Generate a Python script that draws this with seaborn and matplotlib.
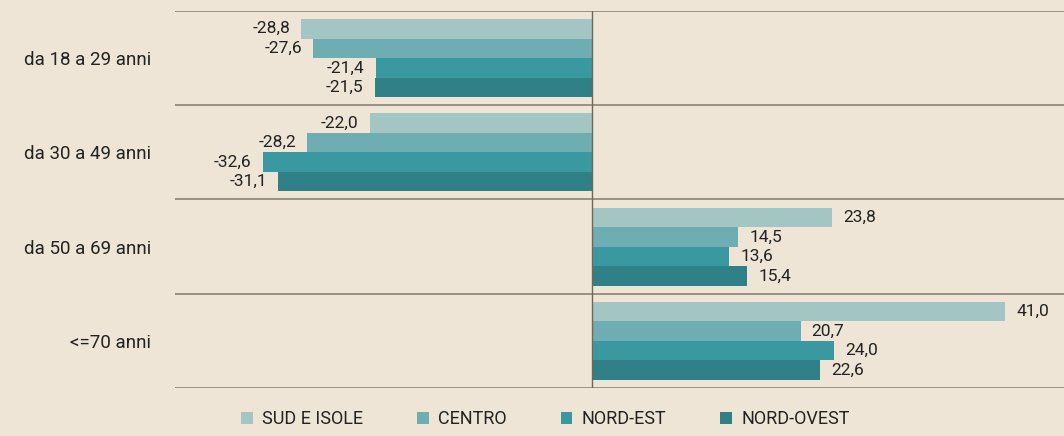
import pandas as pd
import numpy as np
import matplotlib.pyplot as plt
import seaborn as sns
from matplotlib.patches import Patch

# data
age_groups = ['da 18 a 29 anni', 'da 30 a 49 anni', 'da 50 a 69 anni', '<=70 anni']
regions = ['SUD E ISOLE', 'CENTRO', 'NORD-EST', 'NORD-OVEST']
sud_isole = [-28.8, -22.0, 23.8, 41.0]
centro = [-27.6, -28.2, 14.5, 20.7]
nord_est = [-21.4, -32.6, 13.6, 24.0]
nord_ovest = [-21.5, -31.1, 15.4, 22.6]

colors = ['#a3c5c4', '#6eadb2', '#3a98a1', '#2f8087']
bg = '#eee5d6'
txt = '#222222'

df = pd.DataFrame({
    'gruppo': np.repeat(age_groups, 4),
    'area': regions * 4,
    'valore': [v for row in zip(sud_isole, centro, nord_est, nord_ovest) for v in row],
})

sns.set_theme(style='white')
plt.rcParams['font.family'] = ['Roboto', 'DejaVu Sans']

fig = plt.figure(figsize=(10.64, 4.36), dpi=100, facecolor=bg)
ax = fig.add_axes([175 / 1064, 1 - 388 / 436, 1 - 175 / 1064, (388 - 11) / 436])
ax.set_facecolor(bg)

sns.barplot(data=df, y='gruppo', x='valore', hue='area', order=age_groups,
            hue_order=regions, palette=colors, width=0.83, orient='h',
            saturation=1, legend=False, ax=ax, linewidth=0)

for cont in ax.containers:
    labels = [f"{v:.1f}".replace('.', ',') for v in cont.datavalues]
    ax.bar_label(cont, labels=labels, padding=8, fontsize=12.5, color=txt)

ax.set_xlim(-41.3, 46.8)
ax.set_ylim(3.5, -0.5)
for y in np.arange(-0.5, 4.0, 1.0):
    ax.axhline(y, color='#8c8373', lw=1.2, zorder=0)
ax.axvline(0, color='#6f675a', lw=1.0, zorder=3)

for s in ax.spines.values():
    s.set_visible(False)
ax.set_xticks([])
ax.set_xlabel('')
ax.set_ylabel('')
ax.tick_params(axis='y', length=0, pad=17, labelsize=13.5, labelcolor=txt)

handles = [Patch(facecolor=c, edgecolor='none') for c in colors]
fig.legend(handles, regions, loc='lower left', bbox_to_anchor=(225 / 1064, -0.02),
           ncol=4, frameon=False, fontsize=13, handlelength=0.65, handleheight=0.65,
           handletextpad=0.5, columnspacing=3.0, labelcolor=txt)

fig.savefig('out.png', dpi=100, facecolor=bg)
